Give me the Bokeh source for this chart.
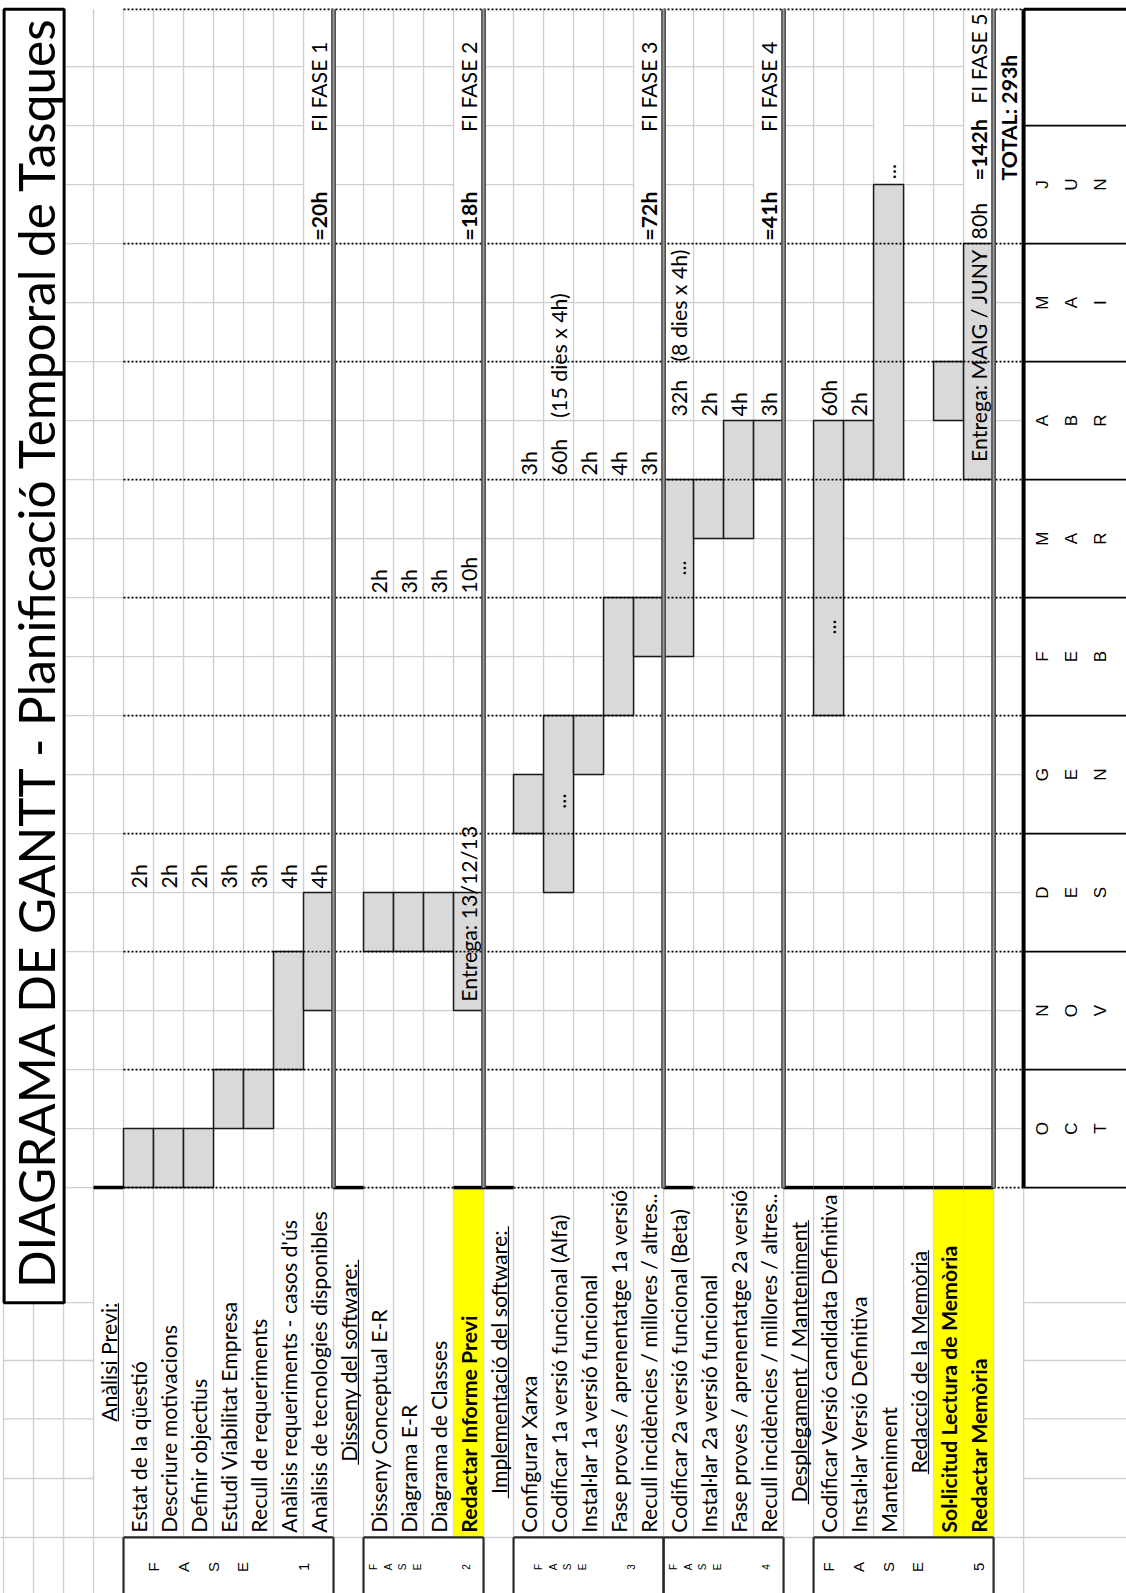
from math import pi
from bokeh.plotting import figure
from bokeh.models import Range1d
from bokeh.embed import file_html
from bokeh.resources import INLINE
from bokeh.core.properties import value

# ---------------- chart data ----------------
title_text = "DIAGRAMA DE GANTT - Planificació Temporal de Tasques"
months = ["OCT", "NOV", "DES", "GEN", "FEB", "MAR", "ABR", "MAI", "JUN"]

row_labels = [
    "Anàlisi Previ:",
    "Estat de la qüestió",
    "Descriure motivacions",
    "Definir objectius",
    "Estudi Viabilitat Empresa",
    "Recull de requeriments",
    "Anàlisis requeriments - casos d'ús",
    "Anàlisis de tecnologies disponibles",
    "Disseny del software:",
    "Disseny Conceptual E-R",
    "Diagrama E-R",
    "Diagrama de Classes",
    "Redactar Informe Previ",
    "Implementació del software:",
    "Configurar Xarxa",
    "Codificar 1a versió funcional (Alfa)",
    "Instal·lar 1a versió funcional",
    "Fase proves / aprenentatge 1a versió",
    "Recull incidències / millores / altres..",
    "Codificar 2a versió funcional (Beta)",
    "Instal·lar 2a versió funcional",
    "Fase proves / aprenentatge 2a versió",
    "Recull incidències / millores / altres..",
    "Desplegament / Manteniment",
    "Codificar Versió candidata Definitiva",
    "Instal·lar Versió Definitiva",
    "Manteniment",
    "Redacció de la Memòria",
    "Sol·licitud Lectura de Memòria",
    "Redactar Memòria",
]
row_kind = ["header", "task", "task", "task", "task", "task", "task", "task",
            "header", "task", "task", "task", "deliverable",
            "header", "task", "task", "task", "task", "task",
            "task", "task", "task", "task",
            "header", "task", "task", "task",
            "header", "deliverable", "deliverable"]

# bars: start / end in half-months counted from 1 October
task_start = [None, 0, 0, 0, 1, 1, 2, 3, None, 4, 4, 4, 3, None, 6, 5, 7, 8, 9,
              9, 11, 11, 12, None, 8, 12, 12, None, 13, 12]
task_end = [None, 1, 1, 1, 2, 2, 4, 5, None, 5, 5, 5, 5, None, 7, 8, 8, 10, 10,
            12, 12, 13, 13, None, 13, 13, 17, None, 14, 16]
task_hours = ["", "2h", "2h", "2h", "3h", "3h", "4h", "4h", "", "2h", "3h", "3h", "10h",
              "", "3h", "60h", "2h", "4h", "3h", "32h", "2h", "4h", "3h",
              "", "60h", "2h", "", "", "", "80h"]
hours_at = [None, 5, 5, 5, 5, 5, 5, 5, None, 10, 10, 10, 10, None, 12, 12, 12, 12, 12,
            13, 13, 13, 13, None, 13, 13, None, None, None, 16]

note_rows = [12, 15, 19, 29]
note_texts = ["Entrega: 13/12/13", "(15 dies x 4h)", "(8 dies x 4h)", "Entrega: MAIG / JUNY"]
note_at = [3.15, 13.05, 14.0, 12.3]

dots_rows = [15, 19, 24, 26]
dots_at = [6.55, 10.5, 9.5, 17.22]

phase_first_row = [1, 9, 14, 19, 24]
phase_last_row = [7, 12, 18, 22, 29]
phase_numbers = ["1", "2", "3", "4", "5"]
phase_total = ["=20h", "=18h", "=72h", "=41h", "=142h"]
phase_total_at = [16.05, 16.05, 16.05, 16.05, 17.07]
phase_end_label = ["FI FASE 1", "FI FASE 2", "FI FASE 3", "FI FASE 4", "FI FASE 5"]
phase_end_at = [17.89, 17.89, 17.89, 17.89, 18.37]
grand_total = "TOTAL: 293h"
grand_total_at = 17.07

# ---------------- layout constants ----------------
C0 = 3            # first label column
TOP = 19.97
LB = -5.93        # bottom of label area
YB = -6.95
XR = 37.5
GRAY = "#cfcfcf"
FONT = "Lato"
FS = "21.3px"

p = figure(width=1126, height=1593, x_range=Range1d(-0.1, 37.43), y_range=Range1d(-6.88, 20.12),
           output_backend="svg", toolbar_location=None, x_axis_type=None, y_axis_type=None,
           min_border=0, outline_line_color=None)
p.grid.visible = False
p.background_fill_color = "white"
p.border_fill_color = "white"

kcol = [i + C0 for i in range(len(row_labels))]
last_k = C0 + len(row_labels)          # total column (33)
phase_end_k = [r + C0 for r in phase_last_row]

# ---------- light grid ----------
gx0, gy0, gx1, gy1 = [], [], [], []
def seg(a, b, c, d):
    gx0.append(a); gy0.append(b); gx1.append(c); gy1.append(d)

masked = set()
for k in phase_end_k + [last_k]:
    for t in (17, 18, 19):
        masked.add((k, t))
masked.add((dots_rows[3] + C0, 18))

for t in range(0, 20):
    for k in range(2, last_k + 1):
        if t == 0 and k != 2:
            continue
        if k >= 4 and t % 2 == 0 and t <= 16:
            continue
        if (k, t) in masked:
            continue
        seg(k, t, k + 1, t)
for k in range(3, last_k + 1):
    seg(k, 0, k, TOP)
for k in range(0, last_k + 2):
    seg(k, LB, k, 0)
for t in (-1.95, -2.93, -3.92, -4.93):
    seg(0, t, 3, t)
    seg(last_k + 1, t, XR, t)
seg(-0.2, LB, XR, LB)
for k in (0, 1, 2, 3, last_k + 1):
    seg(k, YB, k, LB)
p.segment(x0=gx0, y0=gy0, x1=gx1, y1=gy1, line_color=GRAY, line_width=1.4)

# ---------- title box ----------
p.quad(left=[0.02], right=[2.02], bottom=[-1.95], top=[TOP], fill_color="white",
       line_color="black", line_width=3)

# ---------- yellow deliverables ----------
yk = [kcol[i] for i in range(len(row_kind)) if row_kind[i] == "deliverable"]
p.quad(left=yk, right=[k + 1 for k in yk], bottom=[LB] * len(yk), top=[0] * len(yk),
       fill_color="#ffff00", line_color=None)

# ---------- bars ----------
bi = [i for i in range(len(row_labels)) if task_start[i] is not None]
p.quad(left=[kcol[i] for i in bi], right=[kcol[i] + 1 for i in bi],
       bottom=[task_start[i] for i in bi], top=[task_end[i] for i in bi],
       fill_color="#d9d9d9", line_color="#1a1a1a", line_width=1.5)

# ---------- dotted month lines & thick borders ----------
thick_k = [C0] + [kcol[i] for i in range(len(row_kind)) if row_kind[i] == "header" and i > 0] \
          + [kcol[phase_last_row[1]]] + [kcol[phase_first_row[3]]] + list(range(kcol[23], kcol[29] + 1))
dx0, dy0, dx1, dy1 = [], [], [], []
for t in list(range(0, 17, 2)) + [TOP]:
    run = None
    for k in range(4, last_k + 2):
        ok = k <= last_k and not (t == 0 and k in thick_k)
        if ok and run is None:
            run = k
        if not ok and run is not None:
            dx0.append(run); dy0.append(t); dx1.append(k); dy1.append(t)
            run = None
p.segment(x0=dx0, y0=dy0, x1=dx1, y1=dy1, line_color="black", line_width=1.6, line_dash="2 2")
tk = sorted(set(thick_k))
p.segment(x0=tk, y0=[0] * len(tk), x1=[k + 1 for k in tk], y1=[0] * len(tk),
          line_color="black", line_width=3.5)

# double vertical lines
dbl = [C0 + phase_last_row[0] + 1, C0 + phase_last_row[1] + 1, C0 + phase_last_row[2] + 1,
       C0 + phase_last_row[3] + 1, last_k]
p.segment(x0=dbl, y0=[0] * 5, x1=dbl, y1=[TOP] * 5, line_color="#9a9a9a", line_width=4)
for off in (-0.055, 0.055):
    p.segment(x0=[d + off for d in dbl], y0=[0] * 5, x1=[d + off for d in dbl], y1=[TOP] * 5,
              line_color="#333333", line_width=1.2)

# month box
mk = last_k + 1
p.segment(x0=[mk] * 10, y0=list(range(0, 19, 2)), x1=[XR] * 10, y1=list(range(0, 19, 2)),
          line_color="black", line_width=1.8)
p.segment(x0=[mk], y0=[TOP], x1=[XR], y1=[TOP], line_color="black", line_width=3)
p.segment(x0=[mk], y0=[0], x1=[mk], y1=[TOP], line_color="black", line_width=4)

# phase boxes (bottom row)
bx0, by0, bx1, by1 = [], [], [], []
for f, l in zip(phase_first_row, phase_last_row):
    a, b = kcol[f], kcol[l] + 1
    bx0 += [a, a, b]; by0 += [LB, LB, LB]; bx1 += [b, a, b]; by1 += [LB, YB, YB]
p.segment(x0=bx0, y0=by0, x1=bx1, y1=by1, line_color="#2a2a2a", line_width=2.2)

# ---------- texts ----------
def txt(xs, ys, texts, size=FS, bold=False, align="left", font=FONT):
    p.text(x=xs, y=ys, text=texts, angle=pi / 2, text_align=align, text_baseline="middle",
           text_font=value(font), text_font_size=size,
           text_font_style="bold" if bold else "normal", text_color="black")

txt([1.07], [9.1], [title_text], size="49.5px", align="center")

ti = [i for i in range(len(row_kind)) if row_kind[i] == "task"]
txt([kcol[i] + 0.5 for i in ti], [-5.85] * len(ti), [row_labels[i] for i in ti])
di = [i for i in range(len(row_kind)) if row_kind[i] == "deliverable"]
txt([kcol[i] + 0.5 for i in di], [-5.85] * len(di), [row_labels[i] for i in di], bold=True)
hi = [i for i in range(len(row_kind)) if row_kind[i] == "header"]
txt([kcol[i] + 0.5 for i in hi], [-2.96] * len(hi), [row_labels[i] for i in hi], align="center")
ul_px = {0: 118, 8: 205, 13: 272, 23: 284, 27: 224}
p.segment(x0=[kcol[i] + 0.83 for i in hi], y0=[-2.96 - ul_px[i] / 118 for i in hi],
          x1=[kcol[i] + 0.83 for i in hi], y1=[-2.96 + ul_px[i] / 118 for i in hi],
          line_color="black", line_width=1.2)

hh = [i for i in range(len(row_labels)) if task_hours[i]]
txt([kcol[i] + 0.5 for i in hh], [hours_at[i] + 0.07 for i in hh], [task_hours[i] for i in hh])
txt([kcol[i] + 0.5 for i in note_rows], note_at, note_texts)
txt([kcol[i] + 0.5 for i in dots_rows], dots_at, ["..."] * len(dots_rows), align="center")
txt([k + 0.5 for k in phase_end_k], phase_total_at, phase_total, bold=True)
txt([k + 0.5 for k in phase_end_k], phase_end_at, phase_end_label)
txt([last_k + 0.5], [grand_total_at], [grand_total], bold=True)

# month letters
mx, my, mt = [], [], []
for m, name in enumerate(months):
    for j, ch in enumerate(name):
        mx.append(mk + 0.63 + 0.97 * j); my.append(2 * m + 1); mt.append(ch)
txt(mx, my, mt, size="17px", align="center", font="Liberation Sans")

# FASE letters
for n, (f, l) in enumerate(zip(phase_first_row, phase_last_row)):
    a, b = kcol[f], kcol[l] + 1
    c = (a + b) / 2
    big = (b - a) >= 6
    offs = [-2.5, -1.5, -0.5, 0.45] if big else [-1.66, -1.18, -0.69, -0.21]
    numo = 2.5 if big else 1.4
    size = "15px" if big else "10px"
    txt([c + o for o in offs] + [c + numo], [-6.43] * 5, list("FASE") + [phase_numbers[n]],
        size=size, align="center", font="Liberation Sans")

open("out.html", "w").write(file_html(p, INLINE))
